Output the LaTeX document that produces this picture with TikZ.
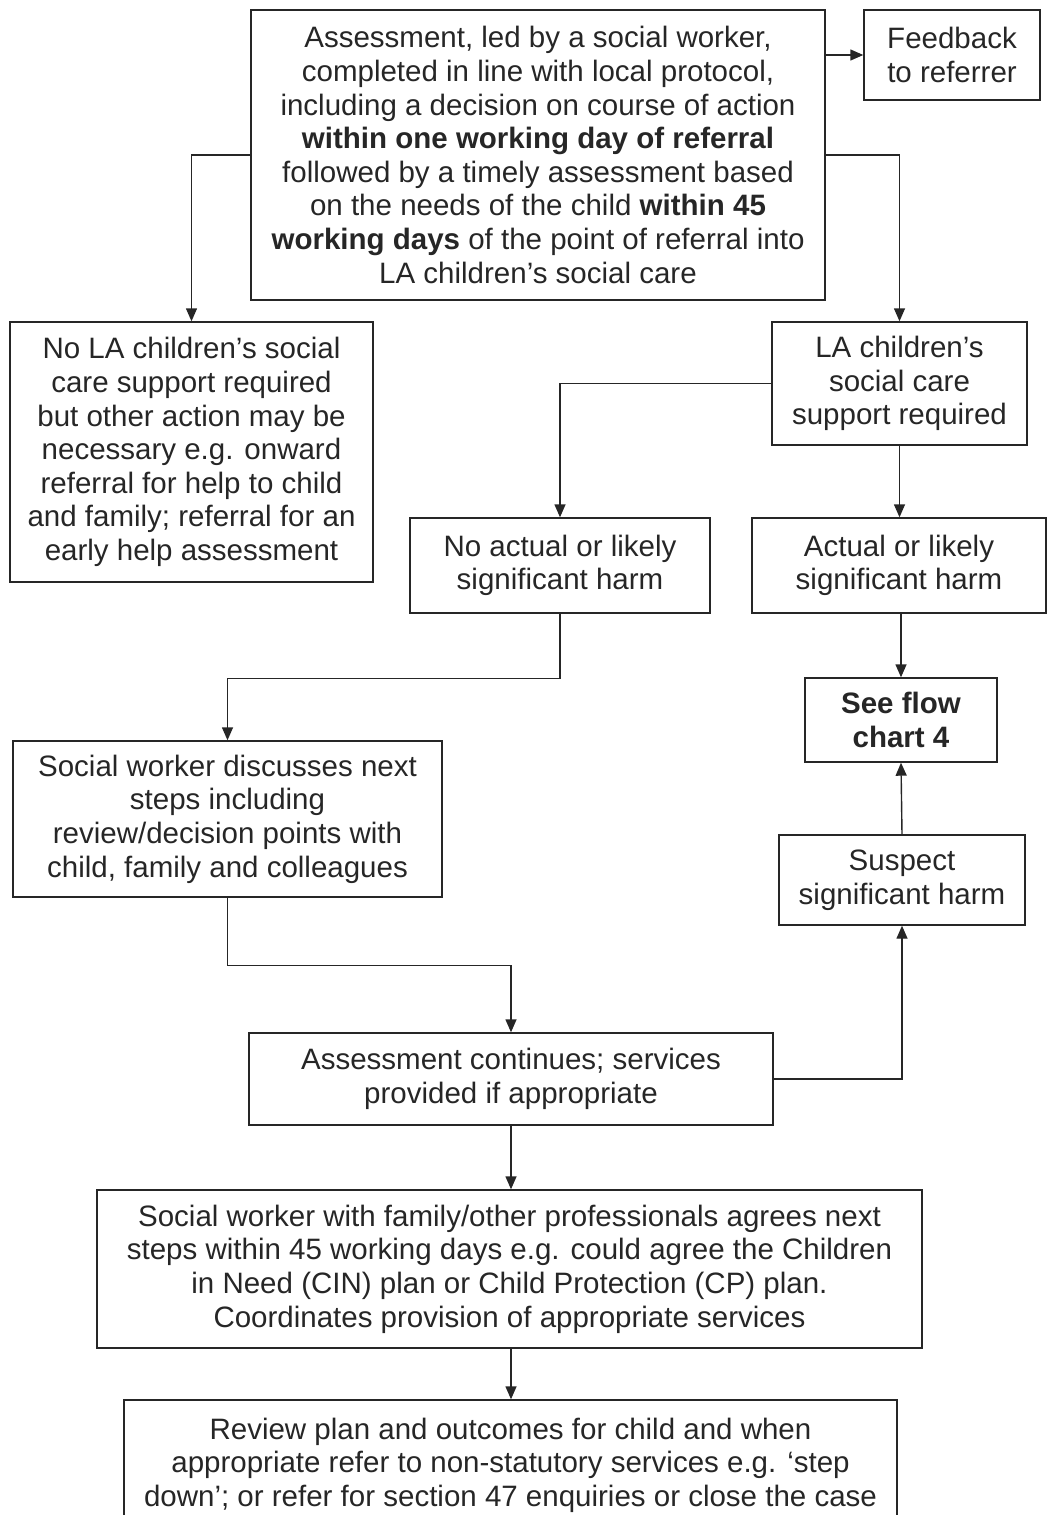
\documentclass[tikz,border=0pt]{standalone}
\usepackage{fontspec}
\setmainfont{Liberation Sans}
\usetikzlibrary{arrows.meta}

\tikzset{
  box/.style={draw=black!85, line width=1.4pt, inner sep=0pt, align=center,
    text=black!85, font=\fontsize{29.5}{33.6}\selectfont},
  flowarrow/.style={draw=black!85, line width=1.4pt, -{Triangle[length=13pt,width=11pt]}}
}

\begin{document}
\begin{tikzpicture}[x=1pt, y=-1pt]
   \useasboundingbox (0,0) rectangle (1048,1515);

   % top row
   \node [box, minimum width=574pt, minimum height=290pt] (assess) at (538,155)
     {Assessment, led by a social worker,\\ completed in line with local protocol,\\
      including a decision on course of action\\ \textbf{within one working day of referral}\\
      followed by a timely assessment based\\ on the needs of the child \textbf{within 45}\\
      \textbf{working days} of the point of referral into\\ LA children’s social care};
   \node [box, minimum width=176pt, minimum height=90pt] (feedback) at (952,55)
     {Feedback\\ to referrer};

   % support or not
   \node [box, minimum width=363pt, minimum height=260pt] (nola) at (191.5,452)
     {No LA children’s social\\ care support required\\ but other action may be\\
      necessary e.g. onward\\ referral for help to child\\ and family; referral for an\\
      early help assessment};
   \node [box, minimum width=255pt, minimum height=123pt] (lasupp) at (899.5,383.5)
     {LA children’s\\ social care\\ support required};

   % harm
   \node [box, minimum width=300pt, minimum height=95pt] (noharm) at (560,565.5)
     {No actual or likely\\ significant harm};
   \node [box, minimum width=294pt, minimum height=95pt] (harm) at (899,565.5)
     {Actual or likely\\ significant harm};
   \node [box, minimum width=192pt, minimum height=84pt] (flow) at (901,720)
     {\textbf{See flow}\\ \textbf{chart 4}};
   \node [box, minimum width=429pt, minimum height=156pt] (discuss) at (227.5,819)
     {Social worker discusses next\\ steps including\\ review/decision points with\\
      child, family and colleagues};
   \node [box, minimum width=246pt, minimum height=90pt] (suspect) at (902,880)
     {Suspect\\ significant harm};

   % lower part
   \node [box, minimum width=524pt, minimum height=92pt] (contin) at (511,1079)
     {Assessment continues; services\\ provided if appropriate};
   \node [box, minimum width=825pt, minimum height=158pt] (agree) at (509.5,1269)
     {Social worker with family/other professionals agrees next\\
      steps within 45 working days e.g. could agree the Children\\
      in Need (CIN) plan or Child Protection (CP) plan.\\
      Coordinates provision of appropriate services};
   \node [box, minimum width=773pt, minimum height=130pt] (review) at (510.5,1465)
     {Review plan and outcomes for child and when\\
      appropriate refer to non-statutory services e.g. ‘step\\
      down’; or refer for section 47 enquiries or close the case};

   % connectors
   \draw [flowarrow] (assess.east |- feedback.west) -- (feedback.west);
   \draw [flowarrow] (assess.west) -| (nola.north);
   \draw [flowarrow] (assess.east) -| (lasupp.north);
   \draw [flowarrow] (lasupp.west) -| (noharm.north);
   \draw [flowarrow] (lasupp.south) -- (lasupp.south |- harm.north);
   \draw [flowarrow] (flow.north |- harm.south) -- (flow.north);
   \draw [flowarrow] (noharm.south) -- ++(0,65) -| (discuss.north);
   \draw [flowarrow] (discuss.south) -- ++(0,68) -| (contin.north);
   \draw [flowarrow] (contin.east) -| (suspect.south);
   \draw [flowarrow] (suspect.north) -- (flow.south);
   \draw [flowarrow] (contin.south) -- (contin.south |- agree.north);
   \draw [flowarrow] (contin.south |- agree.south) -- (contin.south |- review.north);

\end{tikzpicture}
\end{document}
